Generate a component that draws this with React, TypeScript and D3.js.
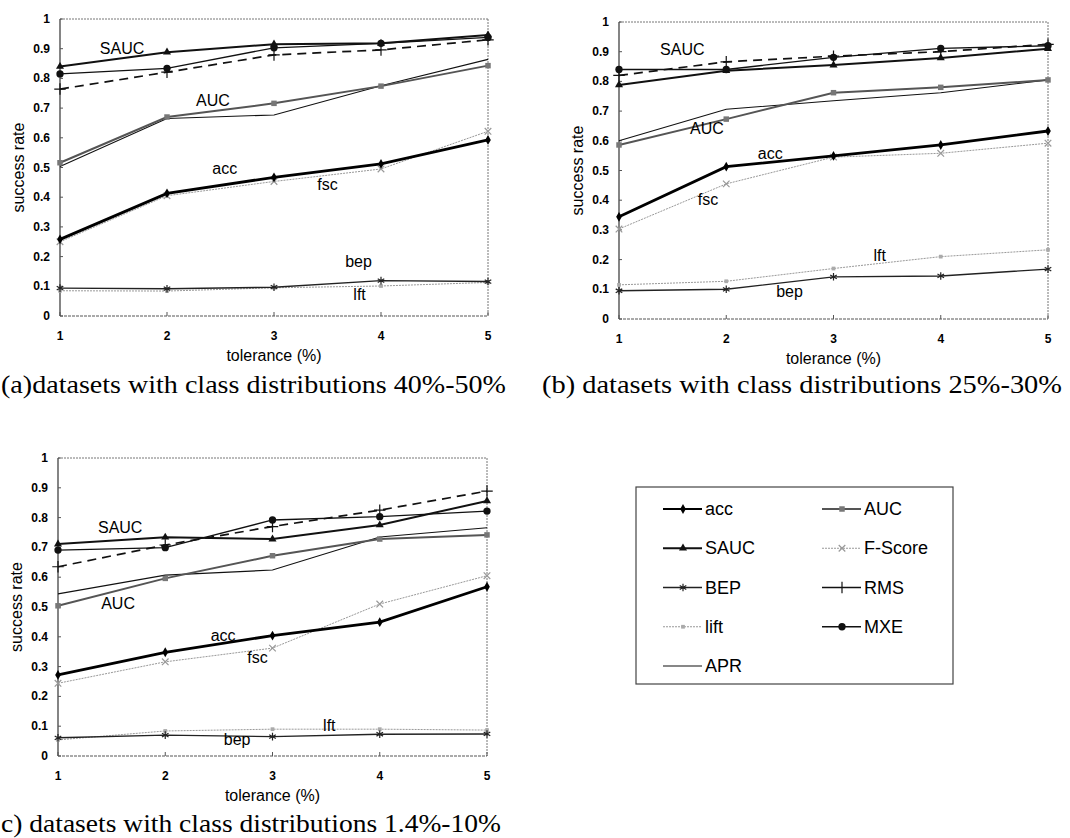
import React from 'react';
import * as d3 from 'd3';

// x axis: tolerance (%), y axis: success rate
const tolerance = [1, 2, 3, 4, 5];
const yTicks = [0, 0.1, 0.2, 0.3, 0.4, 0.5, 0.6, 0.7, 0.8, 0.9, 1];
const yTickLabels = ['0', '0.1', '0.2', '0.3', '0.4', '0.5', '0.6', '0.7', '0.8', '0.9', '1'];
const metrics = ['acc', 'AUC', 'SAUC', 'F-Score', 'BEP', 'RMS', 'lift', 'MXE', 'APR'];

// (a) class distributions 40%-50%
const accA = [0.258, 0.413, 0.467, 0.512, 0.593];
const aucA = [0.516, 0.670, 0.716, 0.774, 0.843];
const saucA = [0.840, 0.888, 0.915, 0.918, 0.946];
const fscA = [0.250, 0.405, 0.453, 0.495, 0.622];
const bepA = [0.094, 0.092, 0.097, 0.119, 0.116];
const rmsA = [0.764, 0.821, 0.879, 0.896, 0.930];
const liftA = [0.085, 0.084, 0.095, 0.101, 0.113];
const mxeA = [0.815, 0.834, 0.903, 0.918, 0.938];
const aprA = [0.503, 0.665, 0.677, 0.775, 0.864];

// (b) class distributions 25%-30%
const accB = [0.344, 0.513, 0.549, 0.586, 0.633];
const aucB = [0.586, 0.673, 0.762, 0.780, 0.805];
const saucB = [0.788, 0.836, 0.855, 0.879, 0.910];
const fscB = [0.303, 0.455, 0.545, 0.558, 0.592];
const bepB = [0.095, 0.100, 0.142, 0.145, 0.168];
const rmsB = [0.820, 0.866, 0.885, 0.900, 0.925];
const liftB = [0.115, 0.127, 0.170, 0.210, 0.233];
const mxeB = [0.840, 0.840, 0.881, 0.911, 0.920];
const aprB = [0.600, 0.706, 0.735, 0.762, 0.805];

// (c) class distributions 1.4%-10%
const accC = [0.272, 0.348, 0.404, 0.449, 0.568];
const aucC = [0.504, 0.596, 0.672, 0.728, 0.742];
const saucC = [0.711, 0.734, 0.728, 0.775, 0.856];
const fscC = [0.244, 0.316, 0.362, 0.510, 0.605];
const bepC = [0.061, 0.070, 0.065, 0.073, 0.074];
const rmsC = [0.635, 0.708, 0.770, 0.825, 0.889];
const liftC = [0.054, 0.084, 0.090, 0.090, 0.087];
const mxeC = [0.691, 0.699, 0.792, 0.803, 0.822];
const aprC = [0.544, 0.607, 0.624, 0.735, 0.766];

// in-plot annotations, in data units
const notesA = [
  { text: 'SAUC', x: 1.58, y: 0.9 },
  { text: 'AUC', x: 2.43, y: 0.724 },
  { text: 'acc', x: 2.54, y: 0.495 },
  { text: 'fsc', x: 3.5, y: 0.444 },
  { text: 'bep', x: 3.79, y: 0.182 },
  { text: 'lft', x: 3.8, y: 0.074 },
];
const notesB = [
  { text: 'SAUC', x: 1.59, y: 0.906 },
  { text: 'AUC', x: 1.82, y: 0.643 },
  { text: 'acc', x: 2.41, y: 0.556 },
  { text: 'fsc', x: 1.83, y: 0.401 },
  { text: 'lft', x: 3.43, y: 0.215 },
  { text: 'bep', x: 2.59, y: 0.091 },
];
const notesC = [
  { text: 'SAUC', x: 1.58, y: 0.768 },
  { text: 'AUC', x: 1.56, y: 0.513 },
  { text: 'acc', x: 2.54, y: 0.406 },
  { text: 'fsc', x: 2.86, y: 0.332 },
  { text: 'lft', x: 3.53, y: 0.104 },
  { text: 'bep', x: 2.67, y: 0.054 },
];

const SANS = 'Liberation Sans, Arial, sans-serif';
const SERIF = 'Liberation Serif, Times New Roman, serif';

type Style = {
  stroke: string;
  width: number;
  dash?: string;
  symbol: d3.SymbolType | null;
  size: number;
  filled: boolean;
  fill?: string;
};

const styles: Record<string, Style> = {
  acc: { stroke: '#000', width: 2.8, symbol: d3.symbolDiamond, size: 28, filled: true },
  AUC: { stroke: '#555', width: 2, symbol: d3.symbolSquare, size: 30, filled: true, fill: '#777' },
  SAUC: { stroke: '#111', width: 2, symbol: d3.symbolTriangle, size: 28, filled: true },
  'F-Score': { stroke: '#999', width: 1, dash: '2,1', symbol: d3.symbolTimes, size: 30, filled: false },
  BEP: { stroke: '#222', width: 1.4, symbol: d3.symbolAsterisk, size: 40, filled: false },
  RMS: { stroke: '#111', width: 1.7, dash: '9,6', symbol: d3.symbolPlus, size: 45, filled: false },
  lift: { stroke: '#999', width: 1, dash: '2,1', symbol: d3.symbolSquare, size: 14, filled: true, fill: '#aaa' },
  MXE: { stroke: '#111', width: 1.3, symbol: d3.symbolCircle, size: 42, filled: true },
  APR: { stroke: '#111', width: 1.1, symbol: null, size: 0, filled: true },
};

const drawOrder = ['lift', 'F-Score', 'APR', 'BEP', 'AUC', 'RMS', 'MXE', 'SAUC', 'acc'];

type Frame = { left: number; right: number; top: number; bottom: number };

const Marker = ({ name, x, y }: { name: string; x: number; y: number }) => {
  const s = styles[name];
  if (!s.symbol) return null;
  const d = d3.symbol().type(s.symbol).size(s.size)() || '';
  return (
    <path
      d={d}
      transform={`translate(${x},${y})`}
      fill={s.filled ? s.fill || s.stroke : 'none'}
      stroke={s.filled ? 'none' : s.stroke}
      strokeWidth={1.2}
    />
  );
};

const Panel = ({
  frame,
  data,
  notes,
}: {
  frame: Frame;
  data: Record<string, number[]>;
  notes: { text: string; x: number; y: number }[];
}) => {
  const x = d3.scaleLinear().domain([1, 5]).range([frame.left, frame.right]);
  const y = d3.scaleLinear().domain([0, 1]).range([frame.bottom, frame.top]);
  const line = d3
    .line<number>()
    .x((_, i) => x(tolerance[i]))
    .y((v) => y(v));
  const midY = (frame.top + frame.bottom) / 2;
  const midX = (frame.left + frame.right) / 2;

  return (
    <g>
      {/* frame */}
      <line x1={frame.left} x2={frame.right} y1={frame.top} y2={frame.top} stroke="#777" strokeDasharray="2,1" />
      <line x1={frame.right} x2={frame.right} y1={frame.top} y2={frame.bottom} stroke="#777" strokeDasharray="2,1" />
      <line x1={frame.left} x2={frame.right} y1={frame.bottom} y2={frame.bottom} stroke="#555" strokeDasharray="3,1" />
      <line x1={frame.left} x2={frame.left} y1={frame.top} y2={frame.bottom} stroke="#333" strokeWidth={1.2} />
      {tolerance.map((t) => (
        <g key={t}>
          <line x1={x(t)} x2={x(t)} y1={frame.bottom} y2={frame.bottom - 4} stroke="#555" />
          <text x={x(t)} y={frame.bottom + 20} textAnchor="middle" dominantBaseline="central" fontSize={12} fontWeight="bold" fontFamily={SANS}>
            {t}
          </text>
        </g>
      ))}
      {yTicks.map((v, i) => (
        <g key={v}>
          <line x1={frame.left} x2={frame.left + 3} y1={y(v)} y2={y(v)} stroke="#555" />
          <text x={frame.left - 10} y={y(v)} textAnchor="end" dominantBaseline="central" fontSize={12} fontWeight="bold" fontFamily={SANS}>
            {yTickLabels[i]}
          </text>
        </g>
      ))}
      <text
        transform={`translate(${frame.left - 42},${midY}) rotate(-90)`}
        textAnchor="middle"
        dominantBaseline="central"
        fontSize={16}
        fontFamily={SANS}
      >
        success rate
      </text>
      <text x={midX} y={frame.bottom + 39} textAnchor="middle" dominantBaseline="central" fontSize={16} fontFamily={SANS}>
        tolerance (%)
      </text>
      {/* series */}
      {drawOrder.map((name) => {
        const s = styles[name];
        const vals = data[name];
        return (
          <g key={name}>
            <path d={line(vals) || ''} fill="none" stroke={s.stroke} strokeWidth={s.width} strokeDasharray={s.dash} />
            {vals.map((v, i) => (
              <Marker key={i} name={name} x={x(tolerance[i])} y={y(v)} />
            ))}
          </g>
        );
      })}
      {notes.map((n) => (
        <text key={n.text} x={x(n.x)} y={y(n.y)} textAnchor="middle" dominantBaseline="central" fontSize={16} fontFamily={SANS}>
          {n.text}
        </text>
      ))}
    </g>
  );
};

const LegendItem = ({ name, x, y }: { name: string; x: number; y: number }) => {
  const s = styles[name];
  return (
    <g>
      <line x1={x} x2={x + 39} y1={y} y2={y} stroke={s.stroke} strokeWidth={Math.min(s.width, 2.2)} strokeDasharray={name === 'RMS' ? undefined : s.dash} />
      <Marker name={name} x={x + 20} y={y} />
      <text x={x + 42} y={y} dominantBaseline="central" fontSize={18} fontFamily={SANS}>
        {name}
      </text>
    </g>
  );
};

const Legend = () => {
  const rows = d3.scalePoint<number>().domain([0, 1, 2, 3, 4]).range([509, 666]);
  const left = metrics.filter((_, i) => i % 2 === 0);
  const right = metrics.filter((_, i) => i % 2 === 1);
  return (
    <g>
      <rect x={636} y={487} width={317} height={197} fill="#fff" stroke="#444" strokeWidth={1.2} />
      {left.map((m, i) => (
        <LegendItem key={m} name={m} x={663} y={rows(i) as number} />
      ))}
      {right.map((m, i) => (
        <LegendItem key={m} name={m} x={822} y={rows(i) as number} />
      ))}
    </g>
  );
};

const pack = (acc: number[], auc: number[], sauc: number[], fsc: number[], bep: number[], rms: number[], lift: number[], mxe: number[], apr: number[]) => ({
  acc,
  AUC: auc,
  SAUC: sauc,
  'F-Score': fsc,
  BEP: bep,
  RMS: rms,
  lift,
  MXE: mxe,
  APR: apr,
});

export default function App() {
  return (
    <svg width={1070} height={838} style={{ position: 'absolute', left: 0, top: 0, background: '#fff' }}>
      <rect width={1070} height={838} fill="#fff" />
      <Panel
        frame={{ left: 60, right: 488, top: 19, bottom: 316 }}
        data={pack(accA, aucA, saucA, fscA, bepA, rmsA, liftA, mxeA, aprA)}
        notes={notesA}
      />
      <Panel
        frame={{ left: 619, right: 1048, top: 22, bottom: 319 }}
        data={pack(accB, aucB, saucB, fscB, bepB, rmsB, liftB, mxeB, aprB)}
        notes={notesB}
      />
      <Panel
        frame={{ left: 58, right: 487, top: 458, bottom: 756 }}
        data={pack(accC, aucC, saucC, fscC, bepC, rmsC, liftC, mxeC, aprC)}
        notes={notesC}
      />
      <Legend />
      <text x={1} y={393} fontSize={26} fontFamily={SERIF} textLength={505} lengthAdjust="spacingAndGlyphs">
        (a)datasets with class distributions 40%-50%
      </text>
      <text x={542} y={393} fontSize={26} fontFamily={SERIF} textLength={520} lengthAdjust="spacingAndGlyphs">
        (b) datasets with class distributions 25%-30%
      </text>
      <text x={1} y={832} fontSize={26} fontFamily={SERIF} textLength={500} lengthAdjust="spacingAndGlyphs">
        c) datasets with class distributions 1.4%-10%
      </text>
    </svg>
  );
}
